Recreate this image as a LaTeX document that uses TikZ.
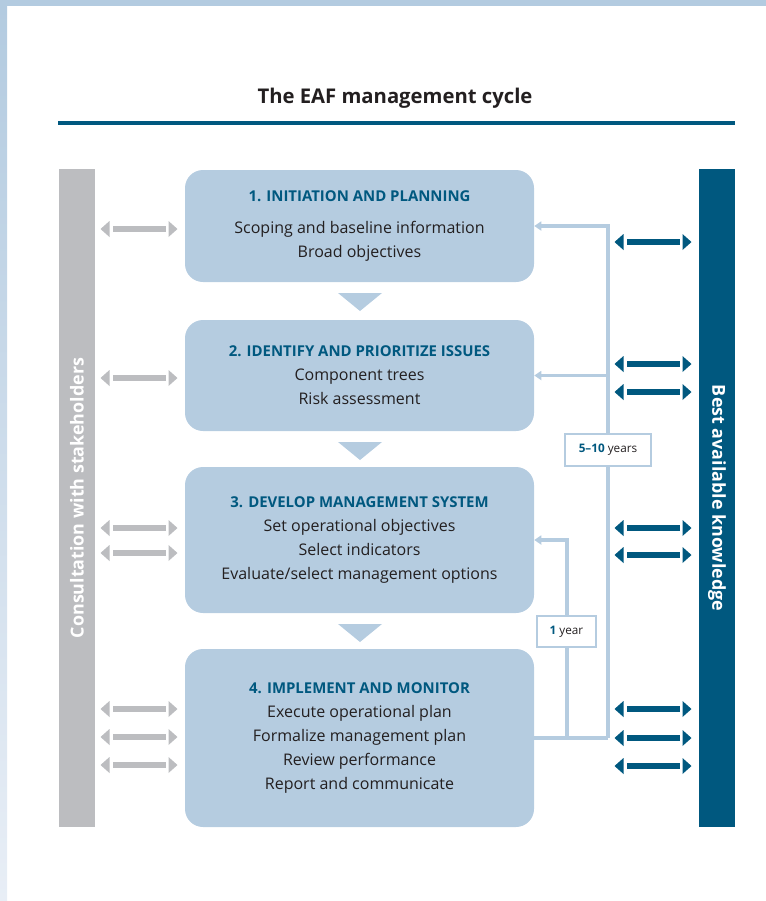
\documentclass[tikz,border=0pt]{standalone}
\usepackage{fontspec}
\setmainfont{Open Sans}
\usetikzlibrary{arrows.meta}

\definecolor{cajaazul}{HTML}{B5CCE0}
\definecolor{azul}{HTML}{00587F}
\definecolor{gris}{HTML}{BCBDC0}
\definecolor{texto}{HTML}{231F20}
\definecolor{marco}{HTML}{B3CBE0}
\definecolor{marcoclaro}{HTML}{E8EEF6}

\newcommand{\etapa}[1]{\textcolor{azul}{\fontsize{11.2}{18}\selectfont\bfseries #1}}

\begin{document}
\begin{tikzpicture}[
    x=0.75pt,
    y=-0.75pt,
    >={Triangle[length=5.25pt,width=6.75pt]},
    caja/.style={fill=cajaazul,rounded corners=13.5pt,minimum width=261.75pt,
        align=center,text=texto,font=\fontsize{12}{18}\selectfont},
    barra/.style={minimum width=493.5pt,minimum height=27pt,text=white,
        font=\fontsize{13.4}{15}\selectfont\bfseries},
    lazo/.style={cajaazul,line width=2.4pt,->},
    etiqueta/.style={draw=cajaazul,line width=1.5pt,fill=white,text=texto,
        font=\fontsize{8.8}{10}\selectfont},
    dobleflecha/.pic={
        \fill (-38.5,0) -- (-29.5,-8) -- (-29.5,8) -- cycle;
        \fill (-26.5,-3) rectangle (26.5,3);
        \fill (38.5,0) -- (29.5,-8) -- (29.5,8) -- cycle;
    }
]
    \useasboundingbox (0,0) rectangle (766,901);
    % marco
    \fill[marco] (0,0) rectangle (766,6);
    \shade[top color=marco,bottom color=marcoclaro] (0,6) rectangle (7,901);

    % titulo
    \node (cab) [font=\fontsize{15.2}{18}\selectfont\bfseries,text=texto] at (395,98)
        {The EAF management cycle};
    \draw[azul,line width=2.4pt] (58,123) -- (735,123);

    % barras laterales
    \node (consulta) [barra,fill=gris,rotate=90] at (77,498)
        {Consultation with stakeholders};
    \node (saber) [barra,fill=azul,rotate=-90] at (717,498)
        {Best available knowledge};

    % etapas
    \node (b1) [caja,minimum height=84pt] at (359.5,226)
        {\etapa{1. INITIATION AND PLANNING}\\[6pt]
         Scoping and baseline information\\
         Broad objectives};
    \node (b2) [caja,minimum height=83.25pt] at (359.5,375.5)
        {\etapa{2. IDENTIFY AND PRIORITIZE ISSUES}\\
         Component trees\\
         Risk assessment};
    \node (b3) [caja,minimum height=109.5pt] at (359.5,540)
        {\etapa{3. DEVELOP MANAGEMENT SYSTEM}\\
         Set operational objectives\\
         Select indicators\\
         Evaluate/select management options};
    \node (b4) [caja,minimum height=133.5pt] at (359.5,738)
        {\etapa{4. IMPLEMENT AND MONITOR}\\
         Execute operational plan\\
         Formalize management plan\\
         Review performance\\
         Report and communicate};
    \foreach \y in {293,442,624}
        \fill[cajaazul] (338,\y) -- (382,\y) -- (360,\y+18) -- cycle;

    % flechas de ida y vuelta
    \foreach \y in {229,378,528,553,709,737,765}
        \pic[gris] at (139,\y) {dobleflecha};
    \foreach \y in {242,364,392,528,555,709,738,766}
        \pic[azul] at (653,\y) {dobleflecha};

    % ciclos
    \coordinate (giro) at (608,738);
    \coordinate (giro1) at (567,738);
    \draw[lazo,-] (b4.east) -- (giro);
    \draw[lazo] (giro) -- (giro |- b1.east) -- (b1.east);
    \draw[lazo] (giro |- b2.east) -- (b2.east);
    \draw[lazo] (giro1) -- (giro1 |- b3.east) -- (b3.east);
    \node (largo) [etiqueta,minimum width=64.5pt,minimum height=24pt] at (608,450)
        {\textcolor{azul}{\bfseries 5--10} years};
    \node (corto) [etiqueta,minimum width=44.25pt,minimum height=23.25pt] at (566.5,631.5)
        {\textcolor{azul}{\bfseries 1} year};
\end{tikzpicture}
\end{document}
